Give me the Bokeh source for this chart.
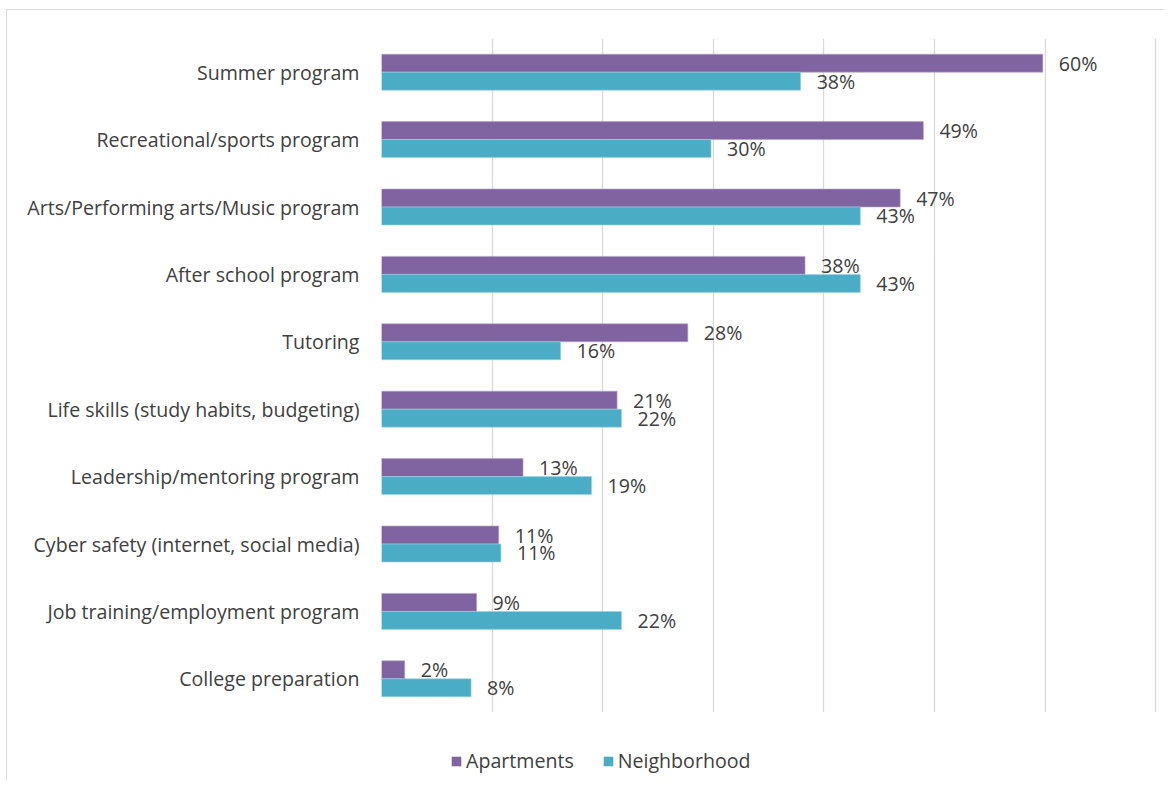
from bokeh.plotting import figure
from bokeh.models import (ColumnDataSource, FactorRange, Range1d, FixedTicker,
                          Legend, LegendItem)
from bokeh.layouts import column
from bokeh.transform import dodge
from bokeh.core.properties import value
from bokeh.embed import file_html
from bokeh.resources import INLINE

categories = [
    "Summer program",
    "Recreational/sports program",
    "Arts/Performing arts/Music program",
    "After school program",
    "Tutoring",
    "Life skills (study habits, budgeting)",
    "Leadership/mentoring program",
    "Cyber safety (internet, social media)",
    "Job training/employment program",
    "College preparation",
]
apartments = [59.8, 49.0, 46.9, 38.3, 27.7, 21.3, 12.8, 10.6, 8.6, 2.1]
neighborhood = [37.9, 29.8, 43.3, 43.3, 16.2, 21.7, 19.0, 10.8, 21.7, 8.1]
series_names = ["Apartments", "Neighborhood"]
grid_ticks = [0, 10, 20, 30, 40, 50, 60, 70]

PURPLE = "#8064A2"
TEAL = "#4BACC6"
TXT = "#404040"
FONT = "Open Sans"
FS = "19.6px"

src = ColumnDataSource(dict(
    cat=categories,
    apt=apartments,
    nbr=neighborhood,
    apt_lbl=[f"{int(v + 0.5)}%" for v in apartments],
    nbr_lbl=[f"{int(v + 0.5)}%" for v in neighborhood],
))

p = figure(
    width=1164, height=712,
    y_range=FactorRange(factors=categories[::-1], range_padding=0),
    x_range=Range1d(0, 70.08),
    output_backend="svg", toolbar_location=None,
    min_border_left=381, min_border_right=8,
    min_border_top=38, min_border_bottom=0,
)
p.outline_line_color = None
p.background_fill_color = "white"
p.border_fill_alpha = 0

bw = 0.267
r1 = p.hbar(y=dodge("cat", bw / 2, range=p.y_range), left=0, right="apt",
            height=bw, source=src, fill_color=PURPLE, line_color="#b3a2c7",
            line_width=0.6)
r2 = p.hbar(y=dodge("cat", -bw / 2, range=p.y_range), left=0, right="nbr",
            height=bw, source=src, fill_color=TEAL, line_color="#9dd3e2",
            line_width=0.6)

for col, lbl, off in (("apt", "apt_lbl", bw / 2), ("nbr", "nbr_lbl", -bw / 2)):
    p.text(x=col, y=dodge("cat", off, range=p.y_range), text=lbl, source=src,
           x_offset=16, text_align="left", text_baseline="middle",
           text_font=value(FONT), text_font_size=FS, text_color=TXT)

p.xaxis.visible = False
p.xgrid.ticker = FixedTicker(ticks=grid_ticks)
p.xgrid.grid_line_color = "#d9d9d9"
p.xgrid.grid_line_width = 1.3
p.ygrid.grid_line_color = None

p.yaxis.axis_line_color = None
p.yaxis.major_tick_line_color = None
p.yaxis.minor_tick_line_color = None
p.yaxis.major_tick_out = 0
p.yaxis.major_tick_in = 0
p.yaxis.major_label_standoff = 22
p.yaxis.major_label_text_font = FONT
p.yaxis.major_label_text_font_size = FS
p.yaxis.major_label_text_color = TXT

# legend strip below the chart (frames are aligned by the column layout)
pl = figure(
    width=1164, height=68, x_range=Range1d(0, 1), y_range=Range1d(0, 1),
    output_backend="svg", toolbar_location=None,
    min_border_left=0, min_border_right=0, min_border_top=0,
    min_border_bottom=0,
)
pl.axis.visible = False
pl.grid.visible = False
pl.outline_line_color = None
pl.border_fill_alpha = 0
pl.background_fill_alpha = 0
# swatch renderers kept outside the visible range; only their legend glyphs show
sw1 = pl.hbar(y=[-10], left=[0], right=[0.5], height=1, fill_color=PURPLE,
              line_color=None)
sw2 = pl.hbar(y=[-10], left=[0], right=[0.5], height=1, fill_color=TEAL,
              line_color=None)

legend = Legend(
    items=[LegendItem(label=series_names[0], renderers=[sw1]),
           LegendItem(label=series_names[1], renderers=[sw2])],
    orientation="horizontal", location=(69, 6),
    glyph_width=12, glyph_height=12, label_standoff=4, spacing=28,
    padding=0, margin=0, border_line_color=None, background_fill_alpha=0,
    label_text_font=FONT, label_text_font_size=FS, label_text_color=TXT,
)
pl.add_layout(legend, "center")

layout = column(p, pl, spacing=0)
layout.styles = {
    "background": ("linear-gradient(#d9d9d9,#d9d9d9) 6px 9px / 1px 100% no-repeat, "
                   "linear-gradient(#d9d9d9,#d9d9d9) 6px 9px / 100% 1px no-repeat, "
                   "white"),
}
open("out.html", "w").write(file_html(layout, INLINE))
